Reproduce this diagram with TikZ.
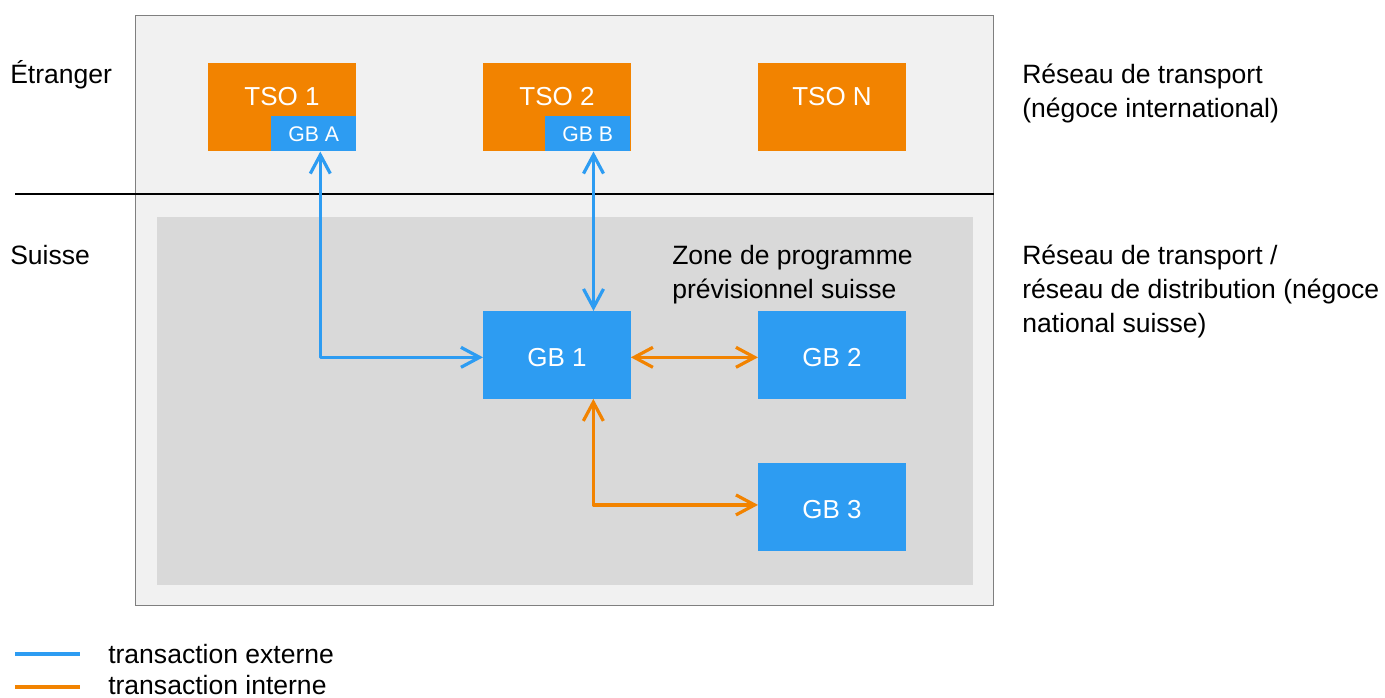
\documentclass[tikz,border=0pt]{standalone}
\usepackage{fontspec}
\setmainfont{Liberation Sans}
\usetikzlibrary{arrows.meta,calc}
\definecolor{orng}{HTML}{F28300}
\definecolor{blu}{HTML}{2D9CF2}
\definecolor{outerbg}{HTML}{F1F1F1}
\definecolor{innerbg}{HTML}{D9D9D9}
\definecolor{bordergray}{HTML}{7F7F7F}
\tikzset{
 txt/.style={font=\fontsize{19.9}{25.5}\selectfont, inner sep=0pt, anchor=base west},
 obox/.style={fill=orng, inner sep=0pt, anchor=north west, minimum width=111pt, minimum height=66pt},
 bbox/.style={fill=blu, inner sep=0pt, anchor=north west, minimum width=110.5pt, minimum height=65.5pt, text=white, text height=17pt, text depth=0pt, font=\fontsize{19.5}{23}\selectfont},
 sbox/.style={fill=blu, inner sep=0pt, anchor=north west, minimum width=63.75pt, minimum height=26.25pt, text=white, font=\fontsize{15.9}{19}\selectfont},
 wtxt/.style={text=white, font=\fontsize{19.5}{23}\selectfont, inner sep=0pt, anchor=base},
 tip/.tip={Straight Barb[length=14pt,width=15pt]},
 conn/.style={line width=2.4pt, line cap=round, line join=round, tip-tip},
 legline/.style={line width=3pt},
}
\begin{document}
\begin{tikzpicture}[x=0.75pt,y=-0.75pt]
\useasboundingbox (0,0) rectangle (1385,698);
% backgrounds
\node (outer) [draw=bordergray, line width=0.8pt, fill=outerbg, inner sep=0pt, anchor=north west, minimum width=643.5pt, minimum height=442.5pt] at (135,15) {};
\node (inner) [fill=innerbg, inner sep=0pt, anchor=north west, minimum width=612pt, minimum height=276pt] at (157,217) {};
\coordinate (sepL) at (15,194);
\draw[line width=1.5pt] (sepL) -- (sepL -| outer.east);
% left labels
\node (etr) [txt] at (10,84) {Étranger};
\node (sui) [txt] at (10,265) {Suisse};
% right labels
\node (r1a) [txt] at (1022,84) {Réseau de transport};
\node (r1b) [txt] at (1022,118) {(négoce international)};
\node (r2a) [txt] at (1022,265) {Réseau de transport /};
\node (r2b) [txt] at (1022,299) {réseau de distribution (négoce};
\node (r2c) [txt] at (1022,333) {national suisse)};
% zone label
\node (z1) [txt] at (672,265) {Zone de programme};
\node (z2) [txt] at (672,299) {prévisionnel suisse};
% TSO boxes
\node (tso1) [obox] at (208,63) {};
\node (tso2) [obox] at (483,63) {};
\node (tsoN) [obox] at (758,63) {};
\node (t1) [wtxt] at (282,106) {TSO 1};
\node (t2) [wtxt] at (557,106) {TSO 2};
\node (tN) [wtxt] at (832,106) {TSO N};
\node (gba) [sbox] at (271,116) {GB A};
\node (gbb) [sbox] at (545,116) {GB B};
% GB boxes
\node (gb1) [bbox] at (483,311) {GB 1};
\node (gb2) [bbox] at (758,311) {GB 2};
\node (gb3) [bbox] at (758,463) {GB 3};
% connectors
\draw[conn, blu] ([xshift=4.9pt]gba.south) |- ([yshift=-1.8pt]gb1.west);
\draw[conn, blu] ([xshift=4.3pt]gbb.south) -- ([xshift=4.3pt]gbb.south |- gb1.north);
\draw[conn, orng] ([yshift=-1.8pt]gb1.east) -- ([yshift=-1.8pt]gb2.west);
\draw[conn, orng] ([xshift=27.3pt]gb1.south) |- ([yshift=1.5pt]gb3.west);
% legend
\coordinate (l1a) at (15,654);
\coordinate (l1b) at (80,654);
\coordinate (l2a) at (15,687);
\coordinate (l2b) at (80,687);
\draw[legline, blu] (l1a) -- (l1b);
\draw[legline, orng] (l2a) -- (l2b);
\node (lt1) [txt] at (108,663) {transaction externe};
\node (lt2) [txt] at (108,694) {transaction interne};
\end{tikzpicture}
\end{document}
